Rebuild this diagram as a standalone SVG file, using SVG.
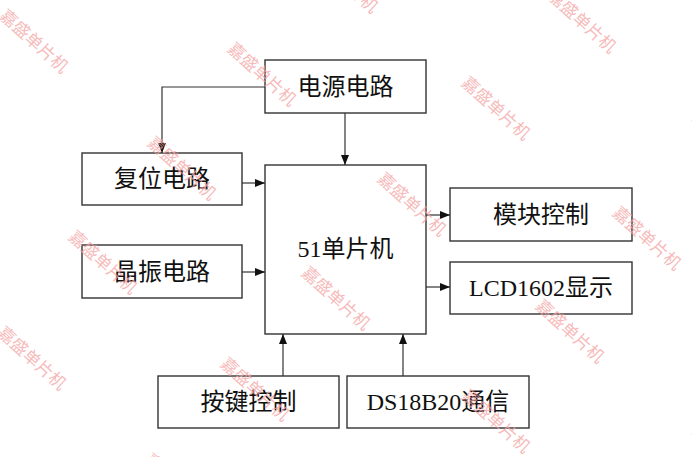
<svg xmlns="http://www.w3.org/2000/svg" width="692" height="457" viewBox="0 0 692 457">
<style>
.box{fill:#fff;stroke:#333;stroke-width:1.4}
.lbl{font-family:"Liberation Serif","Noto Sans CJK SC",serif;font-size:24px;fill:#111;text-anchor:middle}
.ln{fill:none;stroke:#333;stroke-width:1.2}
.wm{font-family:"Noto Sans CJK SC","Liberation Sans",sans-serif;font-size:17px;fill:#f4a4a4;fill-opacity:0.75;text-anchor:middle;dominant-baseline:central}
</style>
<defs>
<marker id="ah" viewBox="0 0 10 8" refX="10" refY="4" markerWidth="10" markerHeight="8" markerUnits="userSpaceOnUse" orient="auto">
<path d="M0,0 L10,4 L0,8 Z" fill="#111"/>
</marker>
</defs>
<rect width="692" height="457" fill="#fff"/>
<g id="power"><rect class="box" x="265" y="60" width="161" height="53"/><text class="lbl" x="345.5" y="94.5">电源电路</text></g>
<g id="reset"><rect class="box" x="82" y="153" width="160" height="52"/><text class="lbl" x="162" y="187">复位电路</text></g>
<g id="crystal"><rect class="box" x="82" y="245" width="160" height="53"/><text class="lbl" x="162" y="279.5">晶振电路</text></g>
<g id="mcu"><rect class="box" x="265" y="165" width="161" height="169"/><text class="lbl" x="345.5" y="257">51单片机</text></g>
<g id="module"><rect class="box" x="450" y="188" width="182" height="53"/><text class="lbl" x="541" y="222.5">模块控制</text></g>
<g id="lcd"><rect class="box" x="450" y="262" width="182" height="52"/><text class="lbl" x="541" y="296">LCD1602显示</text></g>
<g id="keys"><rect class="box" x="158" y="376" width="181" height="52"/><text class="lbl" x="248.5" y="410">按键控制</text></g>
<g id="ds18b20"><rect class="box" x="347" y="376" width="182" height="52"/><text class="lbl" x="438" y="410">DS18B20通信</text></g>
<g id="connectors">
<polyline class="ln" points="265,87 162,87 162,153" marker-end="url(#ah)"/>
<line class="ln" x1="345" y1="113" x2="345" y2="165" marker-end="url(#ah)"/>
<line class="ln" x1="242" y1="183" x2="265" y2="183" marker-end="url(#ah)"/>
<line class="ln" x1="242" y1="272" x2="265" y2="272" marker-end="url(#ah)"/>
<line class="ln" x1="426" y1="215" x2="450" y2="215" marker-end="url(#ah)"/>
<line class="ln" x1="426" y1="287" x2="450" y2="287" marker-end="url(#ah)"/>
<line class="ln" x1="283" y1="376" x2="283" y2="334" marker-end="url(#ah)"/>
<line class="ln" x1="403" y1="376" x2="403" y2="334" marker-end="url(#ah)"/>
</g>
<g id="watermarks">
<text class="wm" transform="translate(35,40) rotate(42)">嘉盛单片机</text>
<text class="wm" transform="translate(263,73) rotate(42)">嘉盛单片机</text>
<text class="wm" transform="translate(497,107) rotate(42)">嘉盛单片机</text>
<text class="wm" transform="translate(728,142) rotate(42)">嘉盛单片机</text>
<text class="wm" transform="translate(183,167) rotate(42)">嘉盛单片机</text>
<text class="wm" transform="translate(413,203) rotate(42)">嘉盛单片机</text>
<text class="wm" transform="translate(648,237) rotate(42)">嘉盛单片机</text>
<text class="wm" transform="translate(104,261) rotate(42)">嘉盛单片机</text>
<text class="wm" transform="translate(337,297) rotate(42)">嘉盛单片机</text>
<text class="wm" transform="translate(571,330) rotate(42)">嘉盛单片机</text>
<text class="wm" transform="translate(33,357) rotate(42)">嘉盛单片机</text>
<text class="wm" transform="translate(256,388) rotate(42)">嘉盛单片机</text>
<text class="wm" transform="translate(497,420) rotate(42)">嘉盛单片机</text>
<text class="wm" transform="translate(728,455) rotate(42)">嘉盛单片机</text>
<text class="wm" transform="translate(180,484) rotate(42)">嘉盛单片机</text>
<text class="wm" transform="translate(345,-20) rotate(42)">嘉盛单片机</text>
<text class="wm" transform="translate(583,20) rotate(42)">嘉盛单片机</text>
</g>
</svg>
